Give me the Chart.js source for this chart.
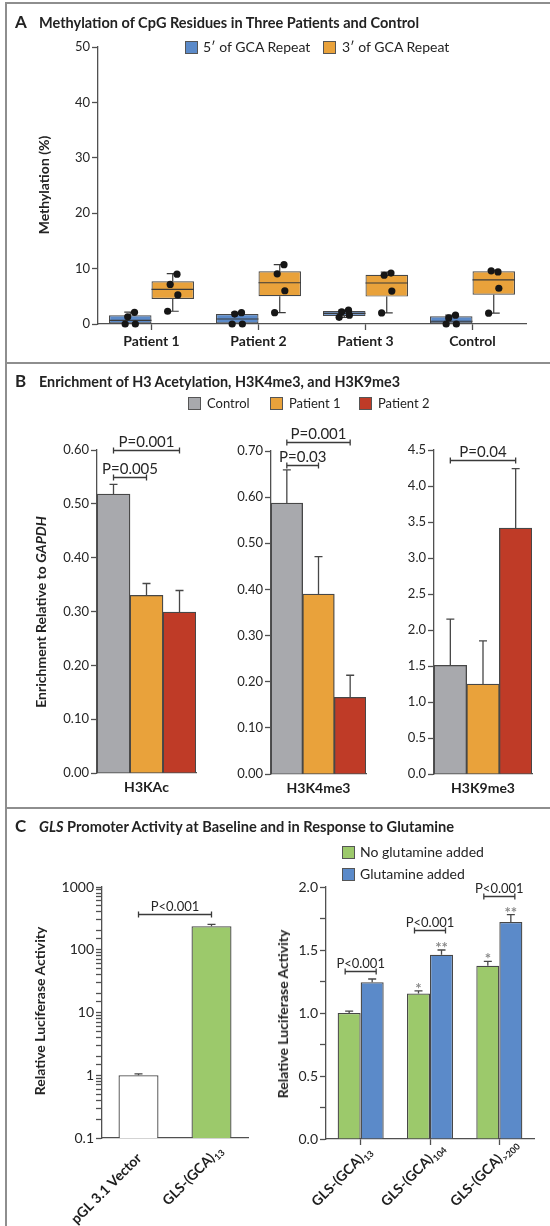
<!DOCTYPE html>
<html>
<head>
<meta charset="utf-8">
<script src="https://cdn.jsdelivr.net/npm/chart.js@4.4.1/dist/chart.umd.min.js"></script>
<style>
  html, body { margin: 0; padding: 0; background: #fff; }
  #page { position: relative; width: 550px; height: 1226px; overflow: hidden; font-family: Lato, "Open Sans", sans-serif; color: #232323; }
  .rule { position: absolute; background: #8e8e8e; }
  .tag { position: absolute; font-weight: bold; font-size: 17px; line-height: 16px; z-index: 2; }
  .title { position: absolute; font-weight: bold; font-size: 16px; line-height: 16px; white-space: nowrap; transform-origin: 0 50%; z-index: 2; }
  .key { position: absolute; font-size: 14px; line-height: 14px; white-space: nowrap; z-index: 2; }
  .sw { position: absolute; width: 11px; height: 11px; border: 1px solid #555; z-index: 2; }
  .ylab { position: absolute; font-weight: bold; font-size: 14px; line-height: 14px; white-space: nowrap; transform: translate(-50%, -50%) rotate(-90deg); z-index: 2; }
  canvas { position: absolute; }
</style>
</head>
<body>
<div id="page">
  <div class="rule" style="left:5px;top:2px;width:545px;height:2px"></div>
  <div class="rule" style="left:5px;top:2px;width:2px;height:1224px"></div>
  <div class="rule" style="left:5px;top:362px;width:545px;height:2px"></div>
  <div class="rule" style="left:5px;top:807px;width:545px;height:2px"></div>

  <!-- A -->
  <div class="tag" style="left:15px;top:14px">A</div>
  <div class="title" data-w="380" style="left:39px;top:14px">Methylation of CpG Residues in Three Patients and Control</div>
  <div class="sw" style="left:185px;top:41px;background:#5b8ac9"></div>
  <div class="key" style="left:203px;top:40px">5′ of GCA Repeat</div>
  <div class="sw" style="left:323px;top:41px;background:#e9a23b"></div>
  <div class="key" style="left:342px;top:40px">3′ of GCA Repeat</div>
  <div class="ylab" style="left:44px;top:185px">Methylation (%)</div>

  <!-- B -->
  <div class="tag" style="left:15px;top:373px">B</div>
  <div class="title" data-w="361" style="left:39px;top:373px">Enrichment of H3 Acetylation, H3K4me3, and H3K9me3</div>
  <div class="sw" style="left:188px;top:397px;background:#a8a9ad"></div>
  <div class="key" style="left:207px;top:396px;font-size:13px">Control</div>
  <div class="sw" style="left:270px;top:397px;background:#e9a23b"></div>
  <div class="key" style="left:289px;top:396px;font-size:13px">Patient 1</div>
  <div class="sw" style="left:359px;top:397px;background:#bf3b27"></div>
  <div class="key" style="left:378px;top:396px;font-size:13px">Patient 2</div>
  <div class="ylab" style="left:41px;top:612px">Enrichment Relative to <i>GAPDH</i></div>

  <!-- C -->
  <div class="tag" style="left:15px;top:818px">C</div>
  <div class="title" data-w="415" style="left:39px;top:818px"><i>GLS</i> Promoter Activity at Baseline and in Response to Glutamine</div>
  <div class="sw" style="left:342px;top:846px;background:#9cc96b"></div>
  <div class="key" style="left:360px;top:845px">No glutamine added</div>
  <div class="sw" style="left:342px;top:868px;background:#5b8ac9"></div>
  <div class="key" style="left:360px;top:867px">Glutamine added</div>
  <div class="ylab" style="left:40px;top:1011px">Relative Luciferase Activity</div>
  <div class="ylab" style="left:283px;top:1014px">Relative Luciferase Activity</div>
</div>

<script>
// A: methylation per box (5' and 3' of the GCA repeat)
const groupsA = ['Patient 1', 'Patient 2', 'Patient 3', 'Control'];
const fiveQ1 = [0, 0, 1.45, 0];
const fiveQ3 = [1.57, 1.8, 2.35, 1.38];
const fiveMed = [0.67, 0.9, 1.93, 0.5];
const fiveMin = [0, 0, 1.2, 0];
const fiveMax = [2.15, 2.1, 2.5, 1.6];
const fivePts = [[2.1, 1.3, 0, 0], [2.05, 1.8, 0, 0], [2.5, 2.2, 1.6, 1.2], [1.6, 1.1, 0, 0]];
const threeQ1 = [4.5, 5.0, 4.95, 5.3];
const threeQ3 = [7.7, 9.5, 8.9, 9.5];
const threeMed = [6.25, 7.45, 7.4, 7.95];
const threeMin = [2.3, 2.05, 2.0, 1.95];
const threeMax = [9.1, 10.7, 9.35, 9.7];
const threePts = [[9.0, 7.15, 5.25, 2.3], [10.7, 9.05, 6.0, 2.05], [9.2, 8.8, 5.95, 2.0], [9.4, 9.6, 6.45, 1.95]];

// B: enrichment relative to GAPDH
const marksB = ['H3KAc', 'H3K4me3', 'H3K9me3'];
const controlMean = [0.518, 0.587, 1.51];
const patient1Mean = [0.330, 0.390, 1.25];
const patient2Mean = [0.299, 0.166, 3.415];
const controlTop = [0.536, 0.659, 2.15];
const patient1Top = [0.352, 0.471, 1.85];
const patient2Top = [0.339, 0.214, 4.24];
const yMaxB = [0.6, 0.7, 4.5];
const yStepB = [0.1, 0.1, 0.5];
const pLabelsB = [['P=0.001', 'P=0.005'], ['P=0.001', 'P=0.03'], ['P=0.04']];
const pLevelsB = [[0.6, 0.55], [0.72, 0.67], [4.365]];
const pVersusB = [[2, 1], [2, 1], [2]];   // dataset compared with control

// C: luciferase activity
const vectors = [['pGL 3.1 Vector', ''], ['GLS-(GCA)', '13']];
const vectorMean = [1.0, 237];
const vectorTop = [1.05, 254];
const pLevelC1 = 370;
const constructs = [['GLS-(GCA)', '13'], ['GLS-(GCA)', '104'], ['GLS-(GCA)', '>200']];
const noGlnMean = [1.0, 1.155, 1.375];
const noGlnTop = [1.015, 1.175, 1.41];
const glnMean = [1.245, 1.462, 1.722];
const glnTop = [1.27, 1.5, 1.78];
const noGlnStars = ['', '*', '*'];
const glnStars = ['', '**', '**'];
const pLevelsC2 = [1.33, 1.66, 1.93];

const FONT = 'Lato, "Open Sans", sans-serif';
const AX = '#505050';
const EDGE = '#474747';
const INK = '#262626';
const BLUE = '#5b8ac9', ORANGE = '#e9a23b', GRAY = '#a8a9ad', RED = '#bf3b27', GREEN = '#9cc96b';
const JITTER = [0.1, -0.06, 0.12, -0.12];

Chart.defaults.font.family = FONT;
Chart.defaults.color = INK;
const page = document.getElementById('page');

// fit titles to the width they take in the figure
document.querySelectorAll('[data-w]').forEach(el => {
  const w = el.getBoundingClientRect().width;
  el.style.transform = 'scaleX(' + (el.dataset.w / w) + ')';
});

// canvas at rect, chart area pinned to area (page coords)
function build(rect, area, cfg) {
  const c = document.createElement('canvas');
  c.width = rect.w; c.height = rect.h;
  Object.assign(c.style, { left: rect.x + 'px', top: rect.y + 'px', width: rect.w + 'px', height: rect.h + 'px' });
  page.appendChild(c);
  const o = cfg.options;
  o.responsive = false; o.animation = false; o.devicePixelRatio = 1;
  o.layout = { padding: { left: 0, top: area.top - rect.y, right: rect.x + rect.w - area.right, bottom: 0 } };
  o.scales.y.afterFit = s => { s.width = area.left - rect.x; };
  o.scales.x.afterFit = s => { s.height = rect.y + rect.h - area.bottom; };
  o.plugins = { legend: { display: false }, tooltip: { enabled: false } };
  return new Chart(c, cfg);
}

function xAxis(size, tick, pad, show) {
  return {
    border: { color: AX, width: 1.3 },
    grid: { offset: false, drawOnChartArea: false, drawTicks: tick > 0, tickLength: tick, tickColor: AX, tickWidth: 1.3 },
    ticks: { display: show, font: { size, weight: 'bold' }, color: '#1e1e1e', padding: pad, maxRotation: 0, autoSkip: false }
  };
}

function yAxis(type, min, max, size, extra) {
  return {
    type, min, max,
    border: { color: AX, width: 1.3 },
    grid: { drawOnChartArea: false, tickLength: 6, tickColor: AX, tickWidth: 1.3 },
    ticks: Object.assign({ font: { size }, color: INK, padding: 2, autoSkip: false }, extra)
  };
}

// medians, whiskers and the single measurements
function boxWhiskers(stats) {
  return {
    id: 'boxWhiskers',
    afterDatasetsDraw(chart) {
      const ctx = chart.ctx, ys = chart.scales.y;
      ctx.save();
      stats.forEach((s, d) => {
        chart.getDatasetMeta(d).data.forEach((el, i) => {
          const x = el.x, half = el.width / 2;
          const [q1, q3] = chart.data.datasets[d].data[i];
          ctx.strokeStyle = '#3a3a3a'; ctx.lineWidth = 1.2;
          ctx.beginPath();
          const m = ys.getPixelForValue(s.med[i]);
          ctx.moveTo(x - half, m); ctx.lineTo(x + half, m);
          [[q3, s.hi[i]], [q1, s.lo[i]]].forEach(([from, to]) => {
            if (to === from) return;
            const a = ys.getPixelForValue(from), b = ys.getPixelForValue(to);
            ctx.moveTo(x, a); ctx.lineTo(x, b);
            ctx.moveTo(x - 6, b); ctx.lineTo(x + 6, b);
          });
          ctx.stroke();
          ctx.fillStyle = '#161616';
          s.pts[i].forEach((v, k) => {
            ctx.beginPath();
            ctx.arc(x + JITTER[k] * el.width, ys.getPixelForValue(v), 3.6, 0, Math.PI * 2);
            ctx.fill();
          });
        });
      });
      ctx.restore();
    }
  };
}

function errorBars(tops, stars) {
  return {
    id: 'errorBars',
    afterDatasetsDraw(chart) {
      const ctx = chart.ctx, ys = chart.scales.y;
      ctx.save();
      ctx.strokeStyle = EDGE; ctx.lineWidth = 1.3;
      ctx.fillStyle = '#8a8a8a'; ctx.font = 'bold 15px ' + FONT; ctx.textAlign = 'center';
      tops.forEach((arr, d) => chart.getDatasetMeta(d).data.forEach((el, i) => {
        const yt = ys.getPixelForValue(arr[i]);
        ctx.beginPath();
        ctx.moveTo(el.x, el.y); ctx.lineTo(el.x, yt);
        ctx.moveTo(el.x - 4, yt); ctx.lineTo(el.x + 4, yt);
        ctx.stroke();
        if (stars && stars[d][i]) ctx.fillText(stars[d][i], el.x, yt + 3);
      }));
      ctx.restore();
    }
  };
}

// significance brackets between two bars
function brackets(list, size, spread) {
  return {
    id: 'brackets',
    afterDraw(chart) {
      const ctx = chart.ctx, ys = chart.scales.y;
      ctx.save();
      ctx.strokeStyle = '#3a3a3a'; ctx.lineWidth = 1.3; ctx.fillStyle = INK;
      ctx.font = size + 'px ' + FONT; ctx.textAlign = 'center'; ctx.textBaseline = 'alphabetic';
      list.forEach(([d0, i0, d1, i1, level, text]) => {
        const x0 = chart.getDatasetMeta(d0).data[i0].x - spread;
        const x1 = chart.getDatasetMeta(d1).data[i1].x + spread;
        const y = Math.round(ys.getPixelForValue(level)) + 0.5;
        ctx.beginPath();
        ctx.moveTo(x0, y); ctx.lineTo(x1, y);
        ctx.moveTo(x0, y - 3); ctx.lineTo(x0, y + 3);
        ctx.moveTo(x1, y - 3); ctx.lineTo(x1, y + 3);
        ctx.stroke();
        ctx.fillText(text, (x0 + x1) / 2, y - 4);
      });
      ctx.restore();
    }
  };
}

// 45 degree category labels with a subscript part
function slanted(labels) {
  return {
    id: 'slanted',
    afterDraw(chart) {
      const ctx = chart.ctx, xs = chart.scales.x, base = chart.chartArea.bottom;
      ctx.save();
      ctx.fillStyle = '#1e1e1e';
      labels.forEach(([main, sub], i) => {
        ctx.save();
        ctx.translate(xs.getPixelForTick(i) + 4, base + 21);
        ctx.rotate(-Math.PI / 4);
        ctx.font = 'bold 14px ' + FONT;
        ctx.textAlign = 'right';
        ctx.fillText(main, 0, 0);
        ctx.font = 'bold 9px ' + FONT;
        ctx.textAlign = 'left';
        ctx.fillText(sub, 0.5, 3);
        ctx.restore();
      });
      ctx.restore();
    }
  };
}

// ---- A ----
build({ x: 0, y: 28, w: 550, h: 332 }, { left: 98, top: 47, right: 526, bottom: 324 }, {
  type: 'bar',
  data: {
    labels: groupsA,
    datasets: [
      { data: fiveQ1.map((v, i) => [v, fiveQ3[i]]), backgroundColor: BLUE, borderColor: EDGE, borderWidth: 1.2, borderSkipped: false },
      { data: threeQ1.map((v, i) => [v, threeQ3[i]]), backgroundColor: ORANGE, borderColor: EDGE, borderWidth: 1.2, borderSkipped: false }
    ]
  },
  options: {
    categoryPercentage: 0.794, barPercentage: 1,
    scales: { x: xAxis(14, 6, 3, true), y: yAxis('linear', 0, 50, 13, { stepSize: 10 }) }
  },
  plugins: [boxWhiskers([
    { med: fiveMed, lo: fiveMin, hi: fiveMax, pts: fivePts },
    { med: threeMed, lo: threeMin, hi: threeMax, pts: threePts }
  ])]
});

// ---- B ----
const rectsB = [{ x: 50, y: 420, w: 160, h: 380 }, { x: 224, y: 420, w: 156, h: 380 }, { x: 388, y: 420, w: 162, h: 380 }];
const areasB = [{ left: 97, top: 450, right: 196, bottom: 773 }, { left: 271, top: 451, right: 366, bottom: 774 }, { left: 434, top: 450, right: 532, bottom: 774 }];
marksB.forEach((mark, i) => {
  build(rectsB[i], areasB[i], {
    type: 'bar',
    data: {
      labels: [mark],
      datasets: [
        { data: [controlMean[i]], backgroundColor: GRAY, borderColor: EDGE, borderWidth: 1.3 },
        { data: [patient1Mean[i]], backgroundColor: ORANGE, borderColor: EDGE, borderWidth: 1.3 },
        { data: [patient2Mean[i]], backgroundColor: RED, borderColor: EDGE, borderWidth: 1.3 }
      ]
    },
    options: {
      categoryPercentage: 1, barPercentage: 1,
      scales: {
        x: xAxis(14, 0, 6, true),
        y: yAxis('linear', 0, yMaxB[i], 13, { stepSize: yStepB[i], callback: v => v.toFixed(i < 2 ? 2 : 1) })
      }
    },
    plugins: [
      errorBars([[controlTop[i]], [patient1Top[i]], [patient2Top[i]]]),
      brackets(pVersusB[i].map((k, j) => [0, 0, k, 0, pLevelsB[i][j], pLabelsB[i][j]]), 15, 0)
    ]
  });
});

// ---- C, baseline (log) ----
build({ x: 40, y: 868, w: 220, h: 358 }, { left: 102, top: 887, right: 248, bottom: 1138 }, {
  type: 'bar',
  data: {
    labels: vectors.map(v => v.join('')),
    datasets: [{ data: vectorMean, backgroundColor: ['#ffffff', GREEN], borderColor: EDGE, borderWidth: 1.3 }]
  },
  options: {
    categoryPercentage: 1, barPercentage: 0.548,
    scales: {
      x: xAxis(14, 0, 0, false),
      y: yAxis('logarithmic', 0.1, 1000, 14, {
        callback: v => {
          const l = Math.log10(v);
          return Math.abs(l - Math.round(l)) < 1e-6 ? (v < 1 ? '0.1' : String(Math.round(v))) : '';
        }
      })
    }
  },
  plugins: [errorBars([vectorTop]), brackets([[0, 0, 0, 1, pLevelC1, 'P<0.001']], 13, 0), slanted(vectors)]
});

// ---- C, glutamine response ----
build({ x: 270, y: 868, w: 280, h: 358 }, { left: 326, top: 887, right: 534, bottom: 1139 }, {
  type: 'bar',
  data: {
    labels: constructs.map(c => c.join('')),
    datasets: [
      { data: noGlnMean, backgroundColor: GREEN, borderColor: EDGE, borderWidth: 1.3 },
      { data: glnMean, backgroundColor: BLUE, borderColor: EDGE, borderWidth: 1.3 }
    ]
  },
  options: {
    categoryPercentage: 0.664, barPercentage: 1,
    scales: {
      x: xAxis(14, 6, 0, false),
      y: yAxis('linear', 0, 2, 14, { stepSize: 0.25, callback: v => (Math.round(v * 100) % 50 === 0 ? v.toFixed(1) : '') })
    }
  },
  plugins: [
    errorBars([noGlnTop, glnTop], [noGlnStars, glnStars]),
    brackets(pLevelsC2.map((l, i) => [0, i, 1, i, l, 'P<0.001']), 13, 4),
    slanted(constructs)
  ]
});
</script>
</body>
</html>
